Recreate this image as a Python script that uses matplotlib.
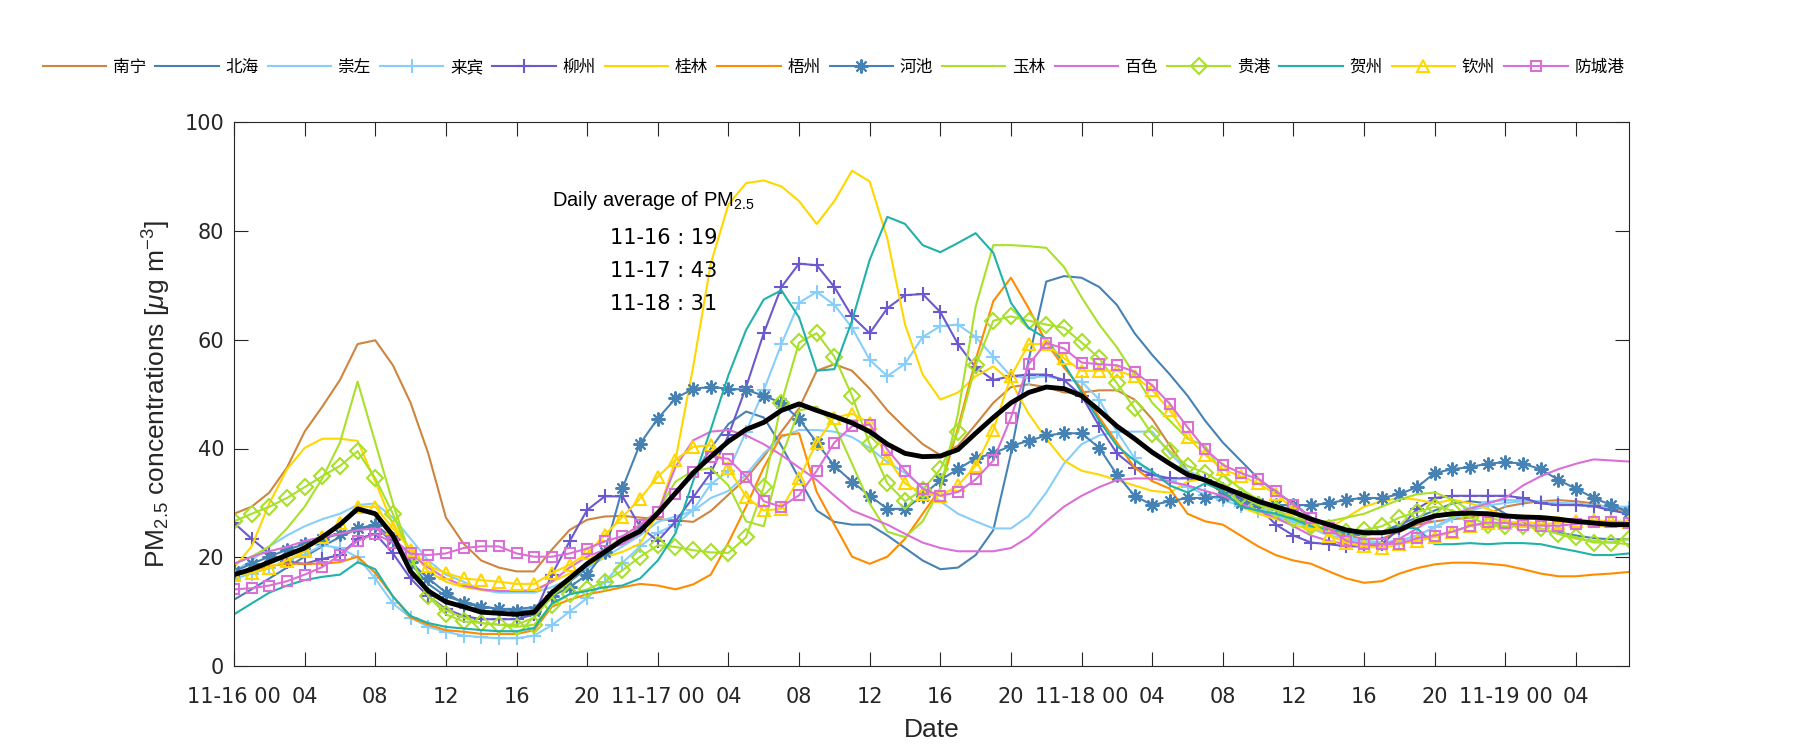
import matplotlib.pyplot as plt
import numpy as np

plt.rcParams['font.family'] = ['Liberation Sans', 'Noto Sans CJK SC', 'DejaVu Sans']
plt.rcParams['mathtext.fontset'] = 'custom'
plt.rcParams['mathtext.rm'] = 'Liberation Sans'
plt.rcParams['mathtext.it'] = 'Liberation Sans:italic'

# hourly PM2.5 from 11-16 00 to 11-19 07
hours = np.arange(80)

nanning = [28, 29.3, 31.9, 36.5, 43.1, 47.7, 52.6, 59.2, 59.9, 55.3, 48.4, 39.1, 27.3, 22.5,
           19.4, 18.1, 17.4, 17.4, 21.4, 25, 26.9, 27.5, 27.6, 27.3, 27, 26.8, 26.5,
           28.5, 31.5, 34.5, 38.5, 43.1, 47.4, 54.3, 55.5, 54.3, 51, 47, 43.8, 40.8,
           38.8, 40.5, 44.4, 48.4, 51.3, 51.8, 51.3, 50.3, 50.3, 50.7, 50.7, 49, 45.4,
           40.5, 35.9, 33.9, 31.9, 30.9, 29.9, 28.6, 27.3, 26, 25, 24, 23.4, 23.4,
           24.7, 26, 26.6, 27, 27.3, 28, 29.3, 29.9, 30.3, 30.5, 30.3, 29.9, 28.9, 28.6]
beihai = [12.2, 14.1, 16.1, 18.1, 20.1, 22, 23.7, 25.3, 25.7, 22.7, 18.8, 15.1, 12.8, 11.8,
          11, 10.5, 10.5, 10.8, 13, 15.5, 18, 20.5, 23, 25.5, 28.5, 31.5, 35,
          40, 44.5, 46.8, 45.7, 40.5, 34.5, 28.6, 26.5, 26, 26, 24, 21.7, 19.4,
          17.8, 18.1, 20.4, 25, 39.1, 56.3, 70.7, 71.7, 71.4, 69.7, 66.4, 61.2, 57.2,
          53.6, 49.7, 45.1, 41.1, 37.8, 34.5, 31.9, 29.9, 27.3, 25.7, 24.3, 24, 24.7,
          26, 27.3, 28.6, 29.9, 30.3, 29.9, 28, 26.5, 25, 24.5, 24, 23.5, 23.3, 23.3]
chongzuo = [17.4, 19.4, 22, 24, 25.7, 27, 28, 29.6, 29.9, 27.3, 23.4, 19.4, 16.8, 15.5,
            14, 13.5, 13.5, 13.5, 14.5, 16, 18, 20, 22, 24, 26.5, 27.5, 28.5,
            30.9, 32.2, 35.2, 39.1, 42.1, 43.4, 43.4, 43.1, 42.1, 40.1, 37.5, 35.5, 32.9,
            30.3, 28, 26.6, 25.3, 25.3, 27.6, 31.9, 37.2, 40.8, 42.4, 43.1, 43.1, 43.1,
            39.1, 35.9, 34.5, 32.6, 30.6, 29.3, 28, 26.6, 25.3, 24, 23.4, 22.7, 22.7,
            23, 24, 25.5, 27, 28.5, 29.5, 30, 30.3, 30.3, 30, 29.9, 29.6, 29.3, 29.3]
laibin = [16, 17, 18, 19.5, 20.5, 22.2, 21.7, 20, 16.1, 11.5, 8.9, 7.2, 6.3, 5.6,
          5.3, 5.1, 5.1, 5.6, 7.5, 10, 12.5, 15.5, 19, 22, 24.5, 26, 28.7,
          33.4, 35.9, 43.1, 50.7, 59.2, 66.8, 68.8, 66.4, 62.2, 56.3, 53.3, 55.6, 60.5,
          62.5, 62.8, 60.5, 56.9, 53.3, 53, 53.3, 52.6, 52.3, 49, 43.1, 38.2, 35.2,
          34, 33, 31.5, 30.5, 29.5, 28.5, 27.5, 26.5, 25.5, 24.5, 23.7, 23, 22.8,
          23, 24, 25.5, 27.5, 29, 30.2, 30.5, 30.5, 30.2, 29.9, 29.6, 29.3, 29, 29]
liuzhou = [26.3, 23.4, 20.7, 19.1, 18.8, 19.7, 20.4, 23.4, 24.3, 20.7, 16.1, 12.8, 10.5, 9.2,
           8.6, 8.6, 8.6, 9.5, 16.8, 22.9, 28.7, 31.2, 31.2, 25.6, 23, 26.6, 31,
           35.5, 42.4, 51.3, 61.2, 69.7, 74, 73.7, 69.7, 64.3, 61.2, 65.8, 68.2, 68.4,
           65.1, 59.2, 54.9, 52.6, 53.3, 53.6, 53.6, 52.6, 49.7, 44.1, 39.1, 36.5, 35.2,
           34.5, 34.5, 34.2, 32.6, 30.9, 29.3, 26, 24, 22.7, 22.4, 22, 22, 22.4,
           25.3, 28.9, 30.9, 31.3, 31.3, 31.3, 31.3, 30.9, 29.9, 29.6, 29.6, 29.4, 28.6, 28]
guilin = [18.1, 22, 29.9, 36.2, 40.1, 41.8, 41.8, 41.4, 33.9, 26, 21.4, 17.4, 15.5, 14.5,
          14, 13.8, 13.8, 14, 15.5, 17, 18.5, 20, 21, 22.5, 28, 37.9, 55,
          74, 84.9, 88.8, 89.3, 88.2, 85.5, 81.3, 85.5, 91.1, 89.1, 78.6, 62.8, 53.6,
          49, 50.3, 53.3, 55.1, 52.3, 46.4, 41.8, 37.8, 35.9, 35.2, 34.2, 33.2, 32.2,
          31.9, 33.9, 34.5, 32.6, 29.3, 28, 27, 26, 25, 25.3, 27.3, 29.3, 30.3,
          30.9, 30.6, 29.9, 30.6, 29.9, 28.9, 27.6, 27.6, 27.6, 27.3, 26.6, 26, 25.7, 25.7]
wuzhou = [16.8, 17.4, 18.4, 18.8, 18.8, 18.8, 19.1, 20.1, 17.1, 12.8, 8.9, 7.6, 6.6, 6.3,
          5.9, 5.9, 5.9, 6.6, 10.9, 12.2, 13.2, 13.8, 14.5, 15.1, 14.8, 14.1, 15,
          16.8, 22.7, 29.3, 36.5, 42.4, 42.8, 32, 26, 20.1, 18.8, 20.1, 23.4, 28,
          32.6, 43.8, 56.3, 67.1, 71.4, 65.8, 59.5, 54.9, 51, 45.7, 41.1, 36.5, 34,
          32.6, 28, 26.6, 26, 24, 22, 20.4, 19.4, 18.8, 17.4, 16.1, 15.3, 15.6,
          17, 18, 18.7, 19, 19, 18.8, 18.5, 17.8, 17, 16.5, 16.5, 16.8, 17, 17.3]
hechi = [17.4, 18.8, 20.1, 21.4, 22.4, 23.4, 24.3, 25.3, 26, 23.4, 19.1, 16.1, 13.5, 11.5,
         10.9, 10.5, 10.2, 10.2, 12.8, 14.5, 16.8, 21, 32.7, 40.9, 45.5, 49.2, 51,
         51.3, 51, 50.8, 49.7, 48.4, 45.4, 41.1, 36.8, 33.9, 31.3, 28.9, 28.9, 31.3,
         34.2, 36.2, 38.2, 39.1, 40.5, 41.4, 42.4, 42.8, 42.8, 40.1, 35.2, 31.3, 29.6,
         30.3, 30.9, 30.9, 31.3, 29.9, 29.9, 29.6, 29.6, 29.6, 29.9, 30.6, 30.9, 30.9,
         31.6, 32.9, 35.5, 36.2, 36.6, 37.2, 37.5, 37.2, 36.2, 34.2, 32.6, 30.9, 29.6, 28.3]
yulin = [18.8, 20.1, 22, 25.3, 29.3, 34.5, 41.1, 52.3, 41.1, 29.9, 20.1, 12.8, 10.2, 8.9,
         7.9, 7.6, 7.6, 8.9, 12.8, 15.5, 18.8, 21.4, 23.7, 26, 28.6, 33.9, 35.9,
         36.4, 33.2, 26.6, 25.7, 38.5, 47, 47.7, 44.4, 37.2, 29.9, 24.7, 23.7, 26.6,
         32.6, 46.4, 66.1, 77.4, 77.4, 77.2, 76.9, 73.4, 67.8, 62.8, 58.6, 53.6, 48.4,
         45.1, 41.8, 40.5, 35.2, 32.6, 30.6, 28.6, 27.3, 26.6, 26.6, 27.3, 28, 29.3,
         30.6, 31.6, 31.9, 30.6, 28.6, 27.3, 26.6, 26, 25.3, 24.3, 23.4, 23, 22.7, 22.4]
baise = [18.8, 20.1, 21.1, 21.9, 23, 23.7, 24.3, 25, 25.3, 23.4, 20.7, 18.1, 16.1, 14.8,
         14.1, 13.8, 13.8, 13.8, 15.5, 18.1, 20.1, 21.4, 22.4, 24.4, 28.1, 36.6, 41.5,
         43.1, 43.4, 42.4, 40.8, 38.8, 36.5, 34.2, 31.3, 28.6, 27.3, 26, 24.3, 22.7,
         21.7, 21.1, 21.1, 21.1, 21.7, 23.7, 26.6, 29.3, 31.3, 32.9, 34.2, 34.5, 34.5,
         33.9, 33.2, 32.2, 31.3, 29.9, 28.6, 27.3, 25.7, 24, 23, 22.4, 22, 22,
         23.4, 25.3, 27.3, 28, 28.9, 29.9, 30.9, 33.2, 34.9, 36.2, 37.2, 38, 37.8, 37.6]
guigang = [26.6, 28, 29.3, 30.9, 32.9, 34.9, 36.8, 39.5, 34.5, 28, 20.1, 12.8, 9.5, 8.2,
           7.9, 7.6, 7.2, 7.6, 11.2, 13.2, 14.1, 15.5, 17.6, 20.1, 22.2, 21.9, 21.3,
           20.9, 20.8, 23.7, 32.9, 48.4, 59.5, 61.2, 56.9, 49.7, 40.8, 33.6, 30.3, 32.4,
           36.2, 43.1, 55.3, 63.5, 64.3, 63.5, 62.8, 62.2, 59.5, 56.6, 52, 47.4, 42.6,
           39.5, 36.8, 35.5, 33.6, 31.3, 29.6, 28.6, 27, 25.7, 25.3, 24.7, 25, 25.7,
           27.3, 28.3, 29.3, 28.6, 27.3, 26, 25.7, 25.7, 25.3, 24.3, 23.7, 22.7, 22.7, 23.4]
hezhou = [9.5, 11.5, 13.5, 14.8, 15.8, 16.4, 16.8, 19.1, 17.8, 12.8, 9.2, 7.9, 7.2, 6.9,
          6.6, 6.4, 6.4, 7, 11.5, 13.2, 13.8, 14.5, 14.8, 16.1, 19.4, 24.4, 34,
          43.5, 53.5, 61.8, 67.4, 69.1, 64.1, 54.3, 54.6, 63.5, 74.7, 82.6, 81.3, 77.4,
          76.1, 77.8, 79.6, 76, 66.8, 62.2, 60.2, 55.6, 50.3, 45.1, 40.5, 37.8, 35.8,
          33.2, 31.9, 33.6, 32.2, 29.3, 28.6, 28, 27, 25.7, 25, 24.7, 24.7, 24.7,
          25.5, 25.3, 22.4, 22.4, 22.6, 22.4, 22.6, 22.6, 22.4, 21.7, 21.1, 20.4, 20.4, 20.7]
qinzhou = [16.8, 17.1, 18.1, 19.4, 21.1, 23.7, 26.3, 29.3, 29.3, 25.3, 21.4, 18.4, 17.1, 16.1,
           15.8, 15.5, 15.1, 15.1, 17.1, 18.6, 20.7, 24.1, 27.4, 30.8, 34.8, 37.9, 40.3,
           40.6, 36.4, 31.1, 28.6, 28.9, 34.5, 41.1, 45.7, 46.4, 44.7, 38.2, 33.6, 31.6,
           31.3, 33.2, 36.8, 43.4, 53.3, 59.2, 59.2, 56.6, 54.3, 54.3, 54.3, 53.3, 50.7,
           47, 42.1, 38.8, 36.2, 34.9, 33.6, 31.6, 28.9, 26.3, 24, 22.7, 22, 21.7,
           22.4, 23, 23.7, 24.7, 25.7, 26.3, 26.3, 26.6, 26.1, 26.3, 26.6, 26.8, 26.6, 26.5]
fangchenggang = [14.1, 14.3, 14.8, 15.6, 16.8, 18.2, 20.4, 23, 24.3, 22.7, 20.7, 20.4, 20.7, 21.7,
                 22, 22, 20.7, 20.1, 20.1, 20.7, 21.6, 22.9, 23.9, 25.9, 28.4, 31.7, 35.7,
                 38.5, 38.1, 34.8, 30.3, 29.3, 31.4, 35.9, 41.1, 44.1, 44.4, 39.8, 35.9, 32.6,
                 31.3, 32, 34.3, 37.8, 45.7, 55.5, 59.4, 58.4, 55.8, 55.5, 55.3, 54.1, 51.6,
                 48.2, 43.9, 39.9, 37, 35.5, 34.4, 32.2, 29.7, 27.3, 25.3, 23, 22.4, 22.4,
                 22.5, 23.5, 24, 24.7, 25.8, 26.4, 26.3, 25.9, 25.8, 25.8, 26.1, 26.4, 26.5, 26.3]
average = [16.8, 17.8, 19.1, 20.4, 21.7, 23.7, 26, 28.9, 28, 24, 17.4, 13.8, 11.8, 10.9,
           9.9, 9.7, 9.5, 9.9, 13.5, 16.1, 18.8, 21, 23.2, 24.8, 28.1, 31.8, 35.5,
           38.5, 41.3, 43.5, 44.8, 47, 48.2, 47, 45.9, 44.7, 43.1, 40.8, 39.1, 38.5,
           38.6, 39.8, 42.8, 45.7, 48.4, 50.3, 51.3, 51, 49.7, 47, 44.1, 41.8, 39.3,
           37.2, 35.2, 34.2, 32.9, 31.6, 30.3, 29.3, 28.3, 27, 26, 25, 24.5, 24.5,
           25, 26.6, 27.6, 28, 28.1, 28, 27.6, 27.4, 27.3, 27, 26.6, 26.3, 26, 26]

cities = ['南宁', '北海', '崇左', '来宾', '柳州', '桂林', '梧州',
          '河池', '玉林', '百色', '贵港', '贺州', '钦州', '防城港']
series = [nanning, beihai, chongzuo, laibin, liuzhou, guilin, wuzhou,
          hechi, yulin, baise, guigang, hezhou, qinzhou, fangchenggang]

# (color, marker) per city; (8, 2, 0) is an asterisk like MATLAB's '*'
styles = [('#CD853F', None), ('#4682B4', None), ('#87CEFA', None), ('#87CEFA', '+'),
          ('#6A5ACD', '+'), ('#FFD700', None), ('#FF8C00', None), ('#4682B4', (8, 2, 0)),
          ('#A8E02A', None), ('#DA70D6', None), ('#A8E02A', 'D'), ('#20B2AA', None),
          ('#FFD700', '^'), ('#DA70D6', 's')]
marker_sizes = {'+': 10, 'D': 8, '^': 9, 's': 7}

tick_labels = ['11-16 00', '04', '08', '12', '16', '20',
               '11-17 00', '04', '08', '12', '16', '20',
               '11-18 00', '04', '08', '12', '16', '20',
               '11-19 00', '04']

daily_days = ['11-16', '11-17', '11-18']
daily_means = [19, 43, 31]

fig = plt.figure(figsize=(18, 7.5), dpi=100)
ax = fig.add_axes([0.13, 0.112, 0.775, 0.725])

handles = []
for name, vals, (color, mk) in zip(cities, series, styles):
    if mk is None:
        h, = ax.plot(hours, vals, color=color, lw=1.5, label=name)
    else:
        ms = marker_sizes.get(mk, 10) if isinstance(mk, str) else 10
        h, = ax.plot(hours, vals, color=color, lw=1.5, marker=mk,
                     markersize=ms, markerfacecolor='none',
                     markeredgewidth=1.5, label=name)
    handles.append(h)

ax.plot(hours, average, color='black', lw=3.5)

# annotation with daily averages
ax.text(18.0, 85.7, 'Daily average of PM$_{2.5}$', fontsize=14.5, va='center')
for i, (d, m) in enumerate(zip(daily_days, daily_means)):
    ax.text(21.3, 78.7 - i * 6.1, f'{d} : {m}', fontsize=15, va='center',
            family='DejaVu Sans')

ax.set_xlim(0, 79)
ax.set_ylim(0, 100)
ax.set_xticks(np.arange(0, 80, 4))
ax.set_xticklabels(tick_labels)
ax.set_yticks(np.arange(0, 101, 20))
ax.tick_params(direction='in', length=10, width=0.8, top=True, right=True,
               labelsize=15, colors='#262626')
ax.tick_params(axis='x', pad=15)
ax.tick_params(axis='y', pad=7)
for lab in ax.get_xticklabels() + ax.get_yticklabels():
    lab.set_family('DejaVu Sans')
for s in ax.spines.values():
    s.set_linewidth(0.8)
    s.set_color('#262626')

ax.set_xlabel('Date', fontsize=19, color='#262626', labelpad=8)
ax.set_ylabel('PM$_{2.5}$ concentrations [$\\mu$g m$^{-3}$]', fontsize=19,
              color='#262626', labelpad=8)

fig.legend(handles=handles, ncol=14, loc='center', bbox_to_anchor=(0.463, 0.91),
           frameon=False, handlelength=3.8, handletextpad=0.4, columnspacing=0.55,
           prop={'family': ['Noto Sans CJK SC', 'DejaVu Sans'], 'size': 12})

fig.savefig('out.png', dpi=100)
